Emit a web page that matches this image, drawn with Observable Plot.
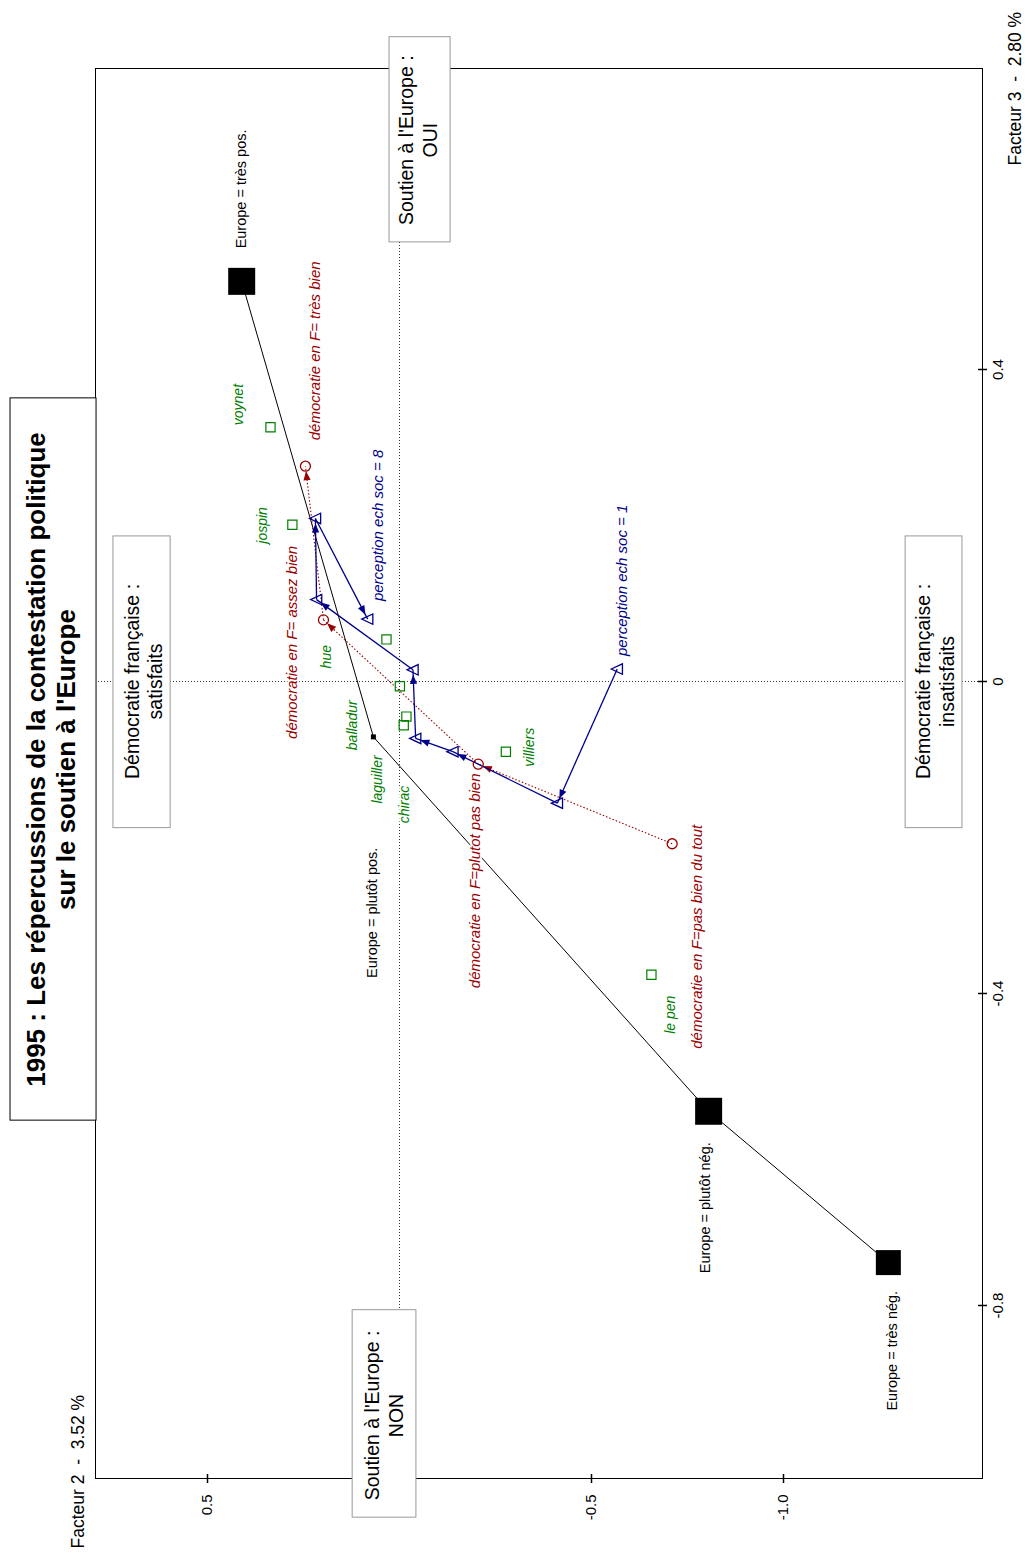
<!DOCTYPE html>
<html>
<head>
<meta charset="utf-8">
<script src="https://cdn.jsdelivr.net/npm/d3@7"></script>
<script src="https://cdn.jsdelivr.net/npm/@observablehq/plot@0.6"></script>
<style>
  html, body { margin: 0; padding: 0; background: #fff; }
  #chart { position: absolute; left: 0; top: 0; }
</style>
</head>
<body>
<div id="chart"></div>
<script>
// ---------------- DATA ----------------
const europeLabels = ["Europe = très pos.", "Europe = plutôt pos.", "Europe = plutôt nég.", "Europe = très nég."];
const europeF2 = [0.411, 0.068, -0.805, -1.273];
const europeF3 = [0.513, -0.071, -0.551, -0.745];

const partis = ["voynet", "jospin", "hue", "balladur", "laguiller", "chirac", "villiers", "le pen"];
const partisF2 = [0.336, 0.279, 0.034, -0.001, -0.018, -0.011, -0.277, -0.656];
const partisF3 = [0.326, 0.201, 0.054, -0.006, -0.045, -0.056, -0.090, -0.376];

const democratieLabels = ["démocratie en F= très bien", "démocratie en F= assez bien", "démocratie en F=plutot pas bien", "démocratie en F=pas bien du tout"];
const democratieF2 = [0.245, 0.198, -0.205, -0.710];
const democratieF3 = [0.276, 0.079, -0.106, -0.208];

const perceptionLabels = ["perception ech soc = 1", "", "", "", "", "", "", "perception ech soc = 8"];
const perceptionF2 = [-0.567, -0.411, -0.139, -0.042, -0.035, 0.216, 0.219, 0.083];
const perceptionF3 = [0.016, -0.156, -0.090, -0.073, 0.015, 0.105, 0.209, 0.080];

const ticksF2 = [0.5, -0.5, -1.0];
const tickLabelsF2 = ["0.5", "-0.5", "-1.0"];
const ticksF3 = [0.4, 0, -0.4, -0.8];
const tickLabelsF3 = ["0.4", "0", "-0.4", "-0.8"];

const axisTitleF2 = "Facteur 2\u00a0 -\u00a0 3.52 %";
const axisTitleF3 = "Facteur 3\u00a0 -\u00a0 2.80 %";

const titleText = "1995 : Les répercussions de la contestation politique\nsur le soutien à l'Europe";
const boxTexts = [
  "Démocratie française :\nsatisfaits",
  "Démocratie française :\ninsatisfaits",
  "Soutien à l'Europe :\nOUI",
  "Soutien à l'Europe :\nNON"
];

// ---------------- LAYOUT (positions / styles) ----------------
const RED = "#990000", BLUE = "#00008b", GREEN = "#008000";
const FONT = "'Liberation Sans', Arial, Helvetica, sans-serif";
const europeSide = [27, 5, 27, 25];

// annotation boxes in factor coordinates
const titleBox = {x1: 1.013, x2: 0.789, y1: 0.363, y2: -0.563, cx: 0.909, cy: -0.100};
const boxLayout = [
  {x1: 0.745, x2: 0.596, y1: 0.186, y2: -0.188, cx: 0.668, cy: 0.0},
  {x1: -1.318, x2: -1.466, y1: 0.186, y2: -0.188, cx: -1.393, cy: 0.0},
  {x1: 0.026, x2: -0.133, y1: 0.826, y2: 0.563, cx: -0.047, cy: 0.694},
  {x1: 0.122, x2: -0.044, y1: -0.806, y2: -1.072, cx: 0.042, cy: -0.941}
];

// label offsets (screen pixels) relative to their point
const labelLayout = {
  "Europe = très pos.": [0, -33],
  "Europe = plutôt pos.": [-1, 241],
  "Europe = plutôt nég.": [-3, 162],
  "Europe = très nég.": [4, 148],
  "voynet": [-32, -2],
  "jospin": [-30, 19],
  "hue": [-60, 29],
  "balladur": [-47, 64],
  "laguiller": [-29, 87],
  "chirac": [1, 98],
  "villiers": [24, 15],
  "le pen": [19, 59],
  "démocratie en F= très bien": [10, -26],
  "démocratie en F= assez bien": [-31, 119],
  "démocratie en F=plutot pas bien": [-3, 224],
  "démocratie en F=pas bien du tout": [25, 205],
  "perception ech soc = 1": [5, -13],
  "perception ech soc = 8": [11, -18]
};

// ---------------- BUILD ----------------
const europe = europeLabels.map((label, i) => ({label, f2: europeF2[i], f3: europeF3[i], side: europeSide[i]}));
const partisData = partis.map((label, i) => ({label, f2: partisF2[i], f3: partisF3[i]}));
const democratie = democratieLabels.map((label, i) => ({label, f2: democratieF2[i], f3: democratieF3[i]}));
const perception = perceptionLabels.map((label, i) => ({label, f2: perceptionF2[i], f3: perceptionF3[i]}));

const demLinks = d3.range(democratie.length - 1, 0, -1).map(i => ({a: democratie[i], b: democratie[i - 1]}));
const percLinks = d3.range(0, perception.length - 1).map(i => ({a: perception[i], b: perception[i + 1]}));

const squareSym = {draw(ctx, size) { const r = Math.sqrt(size / Math.PI); ctx.moveTo(-r, -r); ctx.lineTo(r, -r); ctx.lineTo(r, r); ctx.lineTo(-r, r); ctx.closePath(); }};
const triLeft = {draw(ctx, size) { const r = Math.sqrt(size / Math.PI); ctx.moveTo(-r * 1.15, 0); ctx.lineTo(r, -r); ctx.lineTo(r, r); ctx.closePath(); }};
const vTick = {draw(ctx, size) { const r = Math.sqrt(size / Math.PI); ctx.moveTo(0, -r); ctx.lineTo(0, r); }};
const hTick = {draw(ctx, size) { const r = Math.sqrt(size / Math.PI); ctx.moveTo(-r, 0); ctx.lineTo(r, 0); }};

function arrowHead(color) {
  const m = d3.create("svg:marker")
    .attr("viewBox", "-20 -10 40 20")
    .attr("markerWidth", 40).attr("markerHeight", 20)
    .attr("markerUnits", "userSpaceOnUse")
    .attr("orient", "auto")
    .attr("refX", 0).attr("refY", 0);
  m.append("path").attr("d", "M-5,0L-14,-3.6L-14,3.6Z").attr("fill", color).attr("stroke", "none");
  return m.node();
}

function labelMark(d, opts) {
  const [dx, dy] = labelLayout[d.label] || [0, 0];
  return Plot.text([d], {
    x: "f2", y: "f3", text: "label", dx, dy,
    rotate: -90, textAnchor: "start", lineAnchor: "middle",
    fontFamily: FONT, stroke: "white", strokeWidth: 4, paintOrder: "stroke",
    ...opts
  });
}

const marks = [
  Plot.frame({stroke: "black", strokeWidth: 1}),
  Plot.ruleX([0], {stroke: "#333", strokeDasharray: "1,2"}),
  Plot.ruleY([0], {stroke: "#333", strokeDasharray: "1,2"}),

  Plot.line(europe, {x: "f2", y: "f3", stroke: "black", strokeWidth: 1}),
  Plot.link(demLinks, {x1: d => d.a.f2, y1: d => d.a.f3, x2: d => d.b.f2, y2: d => d.b.f3,
    stroke: RED, strokeWidth: 1.1, strokeDasharray: "1.5,2", markerEnd: arrowHead}),
  Plot.link(percLinks, {x1: d => d.a.f2, y1: d => d.a.f3, x2: d => d.b.f2, y2: d => d.b.f3,
    stroke: BLUE, strokeWidth: 1.3, markerEnd: arrowHead}),

  ...europe.map(d => Plot.dot([d], {x: "f2", y: "f3", symbol: squareSym, r: d.side / 2, fill: "black", stroke: "none"})),
  Plot.dot(partisData, {x: "f2", y: "f3", symbol: squareSym, r: 4.6, fill: "none", stroke: GREEN, strokeWidth: 1.2}),
  Plot.dot(democratie, {x: "f2", y: "f3", r: 5, fill: "none", stroke: RED, strokeWidth: 1.3}),
  Plot.dot(perception, {x: "f2", y: "f3", symbol: triLeft, r: 5.2, fill: "none", stroke: BLUE, strokeWidth: 1.3}),

  ...europe.map(d => labelMark(d, {fill: "black", fontSize: 14.5})),
  ...partisData.map(d => labelMark(d, {fill: GREEN, fontSize: 14, fontStyle: "italic"})),
  ...democratie.map(d => labelMark(d, {fill: RED, fontSize: 15, fontStyle: "italic"})),
  ...perception.filter(d => d.label).map(d => labelMark(d, {fill: BLUE, fontSize: 15, fontStyle: "italic"})),

  // axes: tick marks crossing the frame and rotated labels
  Plot.dot(ticksF2, {x: d => d, frameAnchor: "bottom", symbol: vTick, r: 4.5, stroke: "black", fill: "none"}),
  Plot.dot(ticksF3, {y: d => d, frameAnchor: "right", symbol: hTick, r: 4.5, stroke: "black", fill: "none"}),
  Plot.axisX({ticks: ticksF2, anchor: "bottom", tickSize: 0, tickPadding: 16, tickRotate: -90,
    textAnchor: "end", lineAnchor: "middle", fontSize: 15, fontFamily: FONT, label: null,
    tickFormat: d => tickLabelsF2[ticksF2.indexOf(d)]}),
  Plot.axisY({ticks: ticksF3, anchor: "right", tickSize: 0, tickPadding: 10, tickRotate: -90,
    textAnchor: "middle", lineAnchor: "top", fontSize: 15, fontFamily: FONT, label: null,
    tickFormat: d => tickLabelsF3[ticksF3.indexOf(d)]}),
  Plot.text([axisTitleF2], {text: d => d, frameAnchor: "bottom-left", dx: -17, dy: 70, rotate: -90,
    textAnchor: "start", lineAnchor: "middle", fontSize: 17.5, fontFamily: FONT, fill: "black"}),
  Plot.text([axisTitleF3], {text: d => d, frameAnchor: "top-right", dx: 33, dy: 97, rotate: -90,
    textAnchor: "start", lineAnchor: "middle", fontSize: 17.5, fontFamily: FONT, fill: "black"}),

  // annotation boxes
  Plot.rect(boxLayout, {x1: "x1", x2: "x2", y1: "y1", y2: "y2", fill: "white", stroke: "#999", strokeWidth: 1}),
  Plot.text(boxLayout, {x: "cx", y: "cy", text: (d, i) => boxTexts[i], rotate: -90, textAnchor: "middle",
    lineAnchor: "middle", lineHeight: 1.2, fontSize: 19.5, fontFamily: FONT, fill: "black"}),
  Plot.rect([titleBox], {x1: "x1", x2: "x2", y1: "y1", y2: "y2", fill: "white", stroke: "black", strokeWidth: 1}),
  Plot.text([titleBox], {x: "cx", y: "cy", text: () => titleText, rotate: -90, textAnchor: "middle",
    lineAnchor: "middle", lineHeight: 1.15, fontSize: 26, fontWeight: "bold", fontFamily: FONT, fill: "black"})
];

const chart = Plot.plot({
  width: 1026,
  height: 1554,
  marginLeft: 95,
  marginRight: 44,
  marginTop: 68,
  marginBottom: 76,
  x: {domain: [-1.5182, 0.7917], reverse: true},
  y: {domain: [-1.0218, 0.7859]},
  style: {fontFamily: FONT, background: "white", overflow: "visible"},
  marks
});

document.getElementById("chart").appendChild(chart);
</script>
</body>
</html>
